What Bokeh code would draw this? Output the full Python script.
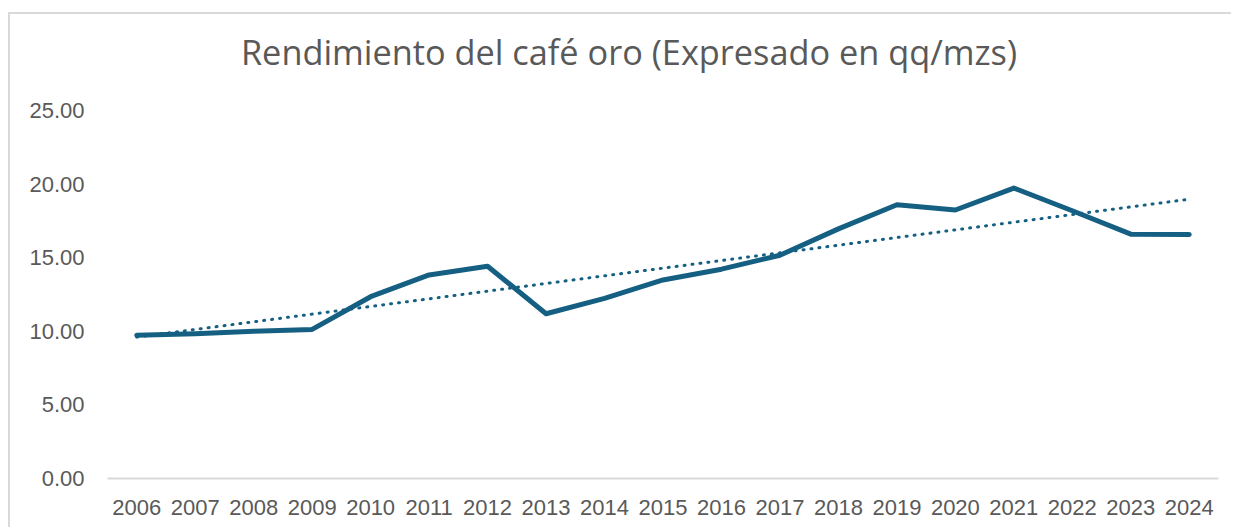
from bokeh.plotting import figure
from bokeh.models import Range1d, FactorRange, NumeralTickFormatter
from bokeh.core.properties import value
from bokeh.embed import file_html
from bokeh.resources import INLINE
import numpy as np

years = [str(y) for y in range(2006, 2025)]
rendimiento = [9.74, 9.83, 10.00, 10.13, 12.35, 13.83, 14.42, 11.19, 12.24, 13.49,
               14.22, 15.17, 16.96, 18.60, 18.24, 19.73, 18.19, 16.60, 16.57]
y_ticks = [0, 5, 10, 15, 20, 25]
title_text = "Rendimiento del café oro (Expresado en qq/mzs)"

LINE = "#156082"
TEXT = "#595959"
GRID = "#d9d9d9"

# linear trendline (least squares over the series)
idx = np.arange(len(rendimiento))
slope, intercept = np.polyfit(idx, rendimiento, 1)
trend = list(slope * idx + intercept)

# layout (pixels inside the canvas)
H = 515
top_pad, bottom_pad = 10, 51
frame_h = H - top_pad - bottom_pad          # 454 px
axis_px = 368                                # px taken by 0..25
px_per_unit = axis_px / 25.0
y_top = frame_h / px_per_unit                # headroom above 25 holds the title
title_y = (478 - 51) / px_per_unit           # title position, in data units

p = figure(x_range=FactorRange(*years, range_padding=0), y_range=Range1d(0, y_top),
           width=1223, height=H, output_backend="svg", toolbar_location=None,
           min_border_left=97, min_border_right=15,
           min_border_top=top_pad, min_border_bottom=bottom_pad)

p.styles = {"border-top": "2px solid #d9d9d9", "border-left": "2px solid #d9d9d9",
            "margin-top": "12px", "margin-left": "8px"}

p.outline_line_color = None
p.background_fill_color = "white"
p.border_fill_color = "white"
p.xgrid.grid_line_color = None
p.ygrid.grid_line_color = None

# title
p.text(x=[years[len(years) // 2]], y=[title_y], text=[title_text],
       text_align="center", text_baseline="alphabetic", x_offset=-34,
       text_font=value("Open Sans"), text_font_size="34.3px", text_color=TEXT)

p.line(years, trend, line_color=LINE, line_width=3, line_dash="1 7",
       line_cap="round")
p.line(years, rendimiento, line_color=LINE, line_width=5, line_join="round",
       line_cap="round")

p.yaxis.ticker = y_ticks
p.yaxis.formatter = NumeralTickFormatter(format="0.00")
p.yaxis.axis_line_color = None
p.yaxis.major_tick_line_color = None
p.yaxis.minor_tick_line_color = None
p.yaxis.major_label_standoff = 17
p.yaxis.major_label_text_font = "Liberation Sans"
p.yaxis.major_label_text_font_size = "22px"
p.yaxis.major_label_text_color = TEXT

p.xaxis.axis_line_color = GRID
p.xaxis.axis_line_width = 2
p.xaxis.major_tick_line_color = None
p.xaxis.minor_tick_line_color = None
p.xaxis.major_label_standoff = 15
p.xaxis.major_label_text_font = "Liberation Sans"
p.xaxis.major_label_text_font_size = "22px"
p.xaxis.major_label_text_color = TEXT

open("out.html", "w").write(file_html(p, INLINE))
